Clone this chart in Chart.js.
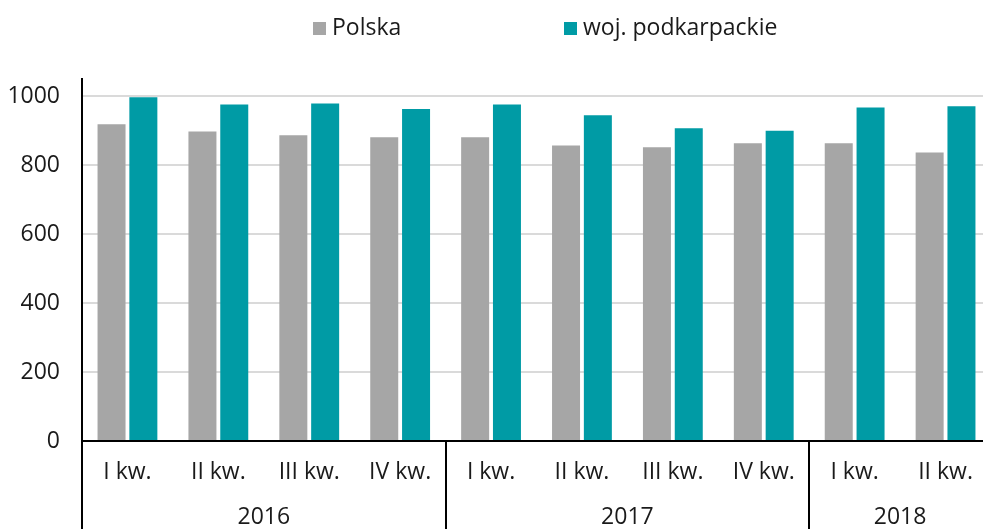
<!DOCTYPE html>
<html lang="pl">
<head>
  <meta charset="UTF-8">
  <title>Polska / woj. podkarpackie</title>
  <script src="https://cdn.jsdelivr.net/npm/chart.js"></script>
  <style>
    * {
      margin: 0;
      padding: 0;
      box-sizing: border-box;
    }

    body {
      background-color: #fff;
      overflow: hidden;
    }

    /* plot runs a few px past the right edge of the window, like the original */
    .chart-container {
      position: relative;
      width: 991px;
      height: 529px;
    }
  </style>
</head>
<body>
  <div class="chart-container">
    <canvas id="quarterChart"></canvas>
  </div>

  <script>
    // data
    const quarters = ['I kw.', 'II kw.', 'III kw.', 'IV kw.', 'I kw.', 'II kw.', 'III kw.', 'IV kw.', 'I kw.', 'II kw.'];
    const years = ['2016', '2017', '2018'];
    const yearSpans = [4, 4, 2];
    const polska = [919, 898, 887, 881, 881, 857, 852, 864, 864, 837];
    const podkarpackie = [997, 976, 979, 963, 976, 945, 907, 900, 967, 971];
    const yTicks = [0, 200, 400, 600, 800, 1000];

    const FONT = 'Open Sans';
    const TEXT = '#1a1a1a';
    const SIZE = 23;

    Chart.defaults.font.family = FONT;
    Chart.defaults.font.size = SIZE;
    Chart.defaults.color = TEXT;

    // legend, year row and group separators
    const extras = {
      id: 'extras',
      afterDraw(chart) {
        const ctx = chart.ctx;
        const x = chart.scales.x;
        const area = chart.chartArea;
        const bottom = chart.height;
        const step = x.getPixelForValue(1) - x.getPixelForValue(0);
        const edge = i => x.getPixelForValue(i) - step / 2;

        ctx.save();
        ctx.strokeStyle = '#000';
        ctx.lineWidth = 2;

        // left axis continues through the label rows
        ctx.beginPath();
        ctx.moveTo(area.left, area.bottom);
        ctx.lineTo(area.left, bottom);
        ctx.stroke();

        let start = 0;
        ctx.font = SIZE + 'px "' + FONT + '"';
        ctx.fillStyle = TEXT;
        ctx.textAlign = 'center';
        ctx.textBaseline = 'middle';
        years.forEach((yr, k) => {
          const end = start + yearSpans[k];
          const x0 = edge(start);
          const x1 = edge(end);
          if (k > 0) {
            ctx.beginPath();
            ctx.moveTo(Math.round(x0), area.bottom);
            ctx.lineTo(Math.round(x0), bottom);
            ctx.stroke();
          }
          ctx.fillText(yr, (x0 + x1) / 2, 517);
          start = end;
        });

        // legend
        const pos = [313, 564];
        ctx.textAlign = 'left';
        chart.data.datasets.forEach((d, i) => {
          ctx.fillStyle = d.backgroundColor;
          ctx.fillRect(pos[i], 22, 13, 13);
          ctx.fillStyle = TEXT;
          ctx.fillText(d.label, pos[i] + 19, 28);
        });
        ctx.restore();
      }
    };

    const ctx = document.getElementById('quarterChart').getContext('2d');
    new Chart(ctx, {
      type: 'bar',
      data: {
        labels: quarters,
        datasets: [{
          label: 'Polska',
          data: polska,
          backgroundColor: '#a6a6a6',
          borderWidth: 0
        }, {
          label: 'woj. podkarpackie',
          data: podkarpackie,
          backgroundColor: '#009ba5',
          borderWidth: 0
        }]
      },
      options: {
        responsive: true,
        maintainAspectRatio: false,
        animation: false,
        layout: {
          padding: { top: 79, left: 0, right: 0, bottom: 0 }
        },
        datasets: {
          bar: {
            categoryPercentage: 0.7,
            barPercentage: 0.88
          }
        },
        plugins: {
          legend: { display: false },
          tooltip: { enabled: false }
        },
        scales: {
          x: {
            grid: { display: false },
            border: { color: '#000', width: 2 },
            ticks: {
              padding: 10,
              maxRotation: 0,
              autoSkip: false
            },
            afterFit(scale) { scale.height = 88; }
          },
          y: {
            min: 0,
            max: 1050,
            afterBuildTicks(axis) {
              axis.ticks = yTicks.map(v => ({ value: v }));
            },
            grid: { color: '#dadada', lineWidth: 2, drawTicks: false },
            border: { color: '#000', width: 2 },
            ticks: {
              padding: 22,
              callback: v => String(v)
            },
            afterFit(scale) { scale.width = 82; }
          }
        }
      },
      plugins: [extras]
    });
  </script>
</body>
</html>
